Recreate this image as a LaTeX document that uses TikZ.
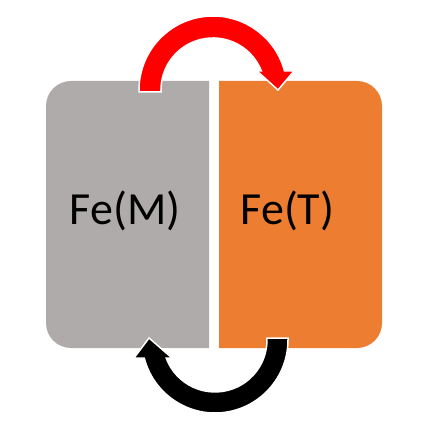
\documentclass[tikz,border=0pt]{standalone}
\usepackage{fontspec}
\setmainfont{Carlito}
\definecolor{boxgray}{HTML}{AFABAB}
\definecolor{boxorange}{HTML}{ED7D31}
\definecolor{arrowred}{HTML}{FF0000}
\begin{document}
\begin{tikzpicture}[x=1pt,y=1pt,
  label text/.style={font=\fontsize{46}{52}\selectfont, text=black, anchor=base, inner sep=0pt},
  arrowshape/.style={draw=white, line width=1.5pt, line join=miter}]
\useasboundingbox (0,0) rectangle (446,439);
% boxes
\fill[boxgray] (209,358) -- (71,358) arc[start angle=90,end angle=180,radius=25]
  -- (46,116) arc[start angle=180,end angle=270,radius=25] -- (209,91) -- cycle;
\fill[boxorange] (219,358) -- (357,358) arc[start angle=90,end angle=0,radius=25]
  -- (382,116) arc[start angle=0,end angle=-90,radius=25] -- (219,91) -- cycle;
\node[label text] (fem) at (125,214) {Fe(M)};
\node[label text] (fet) at (287.5,214) {Fe(T)};
% red arrow (top)
\path[arrowshape, fill=arrowred] (139,347) -- (139,349)
  arc[start angle=180, end angle=15, radius=74]
  -- (294,368) -- (278,349) -- (257,368) -- (261.4,368)
  arc[start angle=21.4, end angle=180, radius=52]
  -- (161,347) -- cycle;
% black arrow (bottom)
\path[arrowshape, fill=black] (288,101) -- (288,99)
  arc[start angle=0, end angle=-165.7, radius=73]
  -- (134,81) -- (149,101) -- (172,81) -- (166.2,81)
  arc[start angle=-159.7, end angle=0, radius=52]
  -- (267,101) -- cycle;
\end{tikzpicture}
\end{document}
